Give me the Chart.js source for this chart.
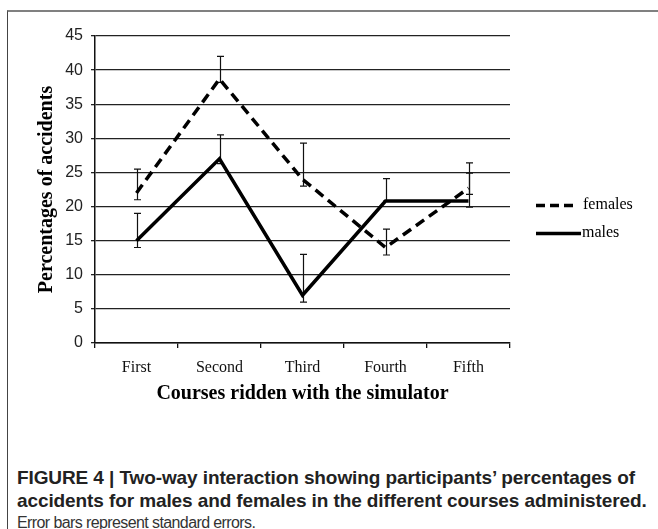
<!DOCTYPE html>
<html>
<head>
<meta charset="utf-8">
<script src="https://cdn.jsdelivr.net/npm/chart.js@4/dist/chart.umd.min.js"></script>
<style>
  html, body { margin: 0; padding: 0; background: #fff; }
  body { width: 658px; height: 529px; position: relative; overflow: hidden; }
  #frame {
    position: absolute; left: 7px; top: 10px; width: 700px; height: 600px;
    border-top: 2px solid #808080; border-left: 1px solid #444;
  }
  #wrap { position: absolute; left: 0; top: 0; width: 658px; height: 420px; }
  #caption {
    position: absolute; left: 17px; top: 466px; width: 641px;
    font-family: "Liberation Sans", Arial, sans-serif; color: #222;
  }
  #caption .bold { font-weight: bold; font-size: 19px; line-height: 23px; white-space: nowrap; letter-spacing: -0.1px; }
  #caption .note { font-size: 16px; line-height: 21px; color: #333; letter-spacing: -0.6px; }
</style>
</head>
<body>
<div id="frame"></div>
<div id="wrap"><canvas id="chart" width="658" height="420"></canvas></div>
<div id="caption">
  <div class="bold">FIGURE 4 | Two-way interaction showing participants’ percentages of</div>
  <div class="bold">accidents for males and females in the different courses administered.</div>
  <div class="note">Error bars represent standard errors.</div>
</div>
<script>
// ================= DATA =================
const courses = ["First", "Second", "Third", "Fourth", "Fifth"];

const females = [22, 38.7, 24, 14, 22.7];
const femalesHigh = [25.5, 42, 29.3, 16.7, 26.4];
const femalesLow = [21, 38.2, 23, 12.9, 19.9];

const males = [15, 27, 7, 20.8, 20.8];
const malesHigh = [19, 30.5, 13, 24.1, 24.9];
const malesLow = [14, 26.3, 6, 20.8, 21.8];

const yTicks = [0, 5, 10, 15, 20, 25, 30, 35, 40, 45];

// ================= ERROR BARS =================
const errorBars = {
  id: "errorBars",
  beforeDatasetsDraw(chart) {
    const ctx = chart.ctx;
    const x = chart.scales.x, y = chart.scales.y;
    const sets = [[femalesHigh, femalesLow], [malesHigh, malesLow]];
    ctx.save();
    ctx.strokeStyle = "#111";
    ctx.lineWidth = 1.2;
    sets.forEach(([hi, lo]) => {
      hi.forEach((h, i) => {
        const px = Math.round(x.getPixelForValue(i)) + 0.5;
        const yh = y.getPixelForValue(h);
        const yl = y.getPixelForValue(lo[i]);
        ctx.beginPath();
        ctx.moveTo(px, yh); ctx.lineTo(px, yl);
        ctx.moveTo(px - 3.5, yh); ctx.lineTo(px + 3.5, yh);
        ctx.moveTo(px - 3.5, yl); ctx.lineTo(px + 3.5, yl);
        ctx.stroke();
      });
    });
    ctx.restore();
  }
};

// ================= LEGEND =================
const sideLegend = {
  id: "sideLegend",
  afterDraw(chart) {
    const ctx = chart.ctx;
    ctx.save();
    ctx.strokeStyle = "#000";
    ctx.lineWidth = 3.5;
    ctx.setLineDash([9, 5]);
    ctx.beginPath(); ctx.moveTo(536, 205.5); ctx.lineTo(575, 205.5); ctx.stroke();
    ctx.setLineDash([]);
    ctx.beginPath(); ctx.moveTo(536, 233.5); ctx.lineTo(581, 233.5); ctx.stroke();
    ctx.fillStyle = "#000";
    ctx.font = "16px 'Liberation Serif', 'Times New Roman', serif";
    ctx.textBaseline = "middle";
    ctx.fillText("females", 583, 205);
    ctx.fillText("males", 582, 233);
    ctx.restore();
  }
};

const serif = "'Liberation Serif', 'Times New Roman', serif";
const sans = "'Liberation Sans', Arial, sans-serif";

new Chart(document.getElementById("chart"), {
  type: "line",
  data: {
    labels: courses,
    datasets: [
      { label: "females", data: females, borderColor: "#000", borderWidth: 3.5,
        borderDash: [10, 6], pointRadius: 0, tension: 0, fill: false },
      { label: "males", data: males, borderColor: "#000", borderWidth: 3.5,
        pointRadius: 0, tension: 0, fill: false }
    ]
  },
  options: {
    responsive: false,
    animation: false,
    layout: { padding: { left: 31, right: 148, top: 36, bottom: 10 } },
    plugins: { legend: { display: false }, tooltip: { enabled: false } },
    scales: {
      x: {
        offset: true,
        grid: { offset: true, drawOnChartArea: false, drawTicks: true, tickLength: 5,
                color: "#111", lineWidth: 1.3 },
        border: { color: "#111", width: 1.5 },
        ticks: { color: "#111", font: { family: serif, size: 16 }, padding: 10 },
        title: { display: true, text: "Courses ridden with the simulator", color: "#000",
                 font: { family: serif, size: 20, weight: "bold" }, padding: { top: 4, bottom: 4 } },
        afterFit(scale) { scale.height = 67; }
      },
      y: {
        min: 0, max: 45,
        afterBuildTicks(scale) { scale.ticks = yTicks.map(v => ({ value: v })); },
        grid: { color: "#222", lineWidth: 1.3, tickLength: 4 },
        border: { color: "#111", width: 1.5 },
        ticks: { color: "#222", font: { family: sans, size: 16 }, padding: 8 },
        title: { display: true, text: "Percentages of accidents", color: "#000",
                 font: { family: serif, size: 20, weight: "bold" }, padding: { top: 4, bottom: 4 } },
        afterFit(scale) { scale.width = 64; }
      }
    }
  },
  plugins: [errorBars, sideLegend]
});
</script>
</body>
</html>
